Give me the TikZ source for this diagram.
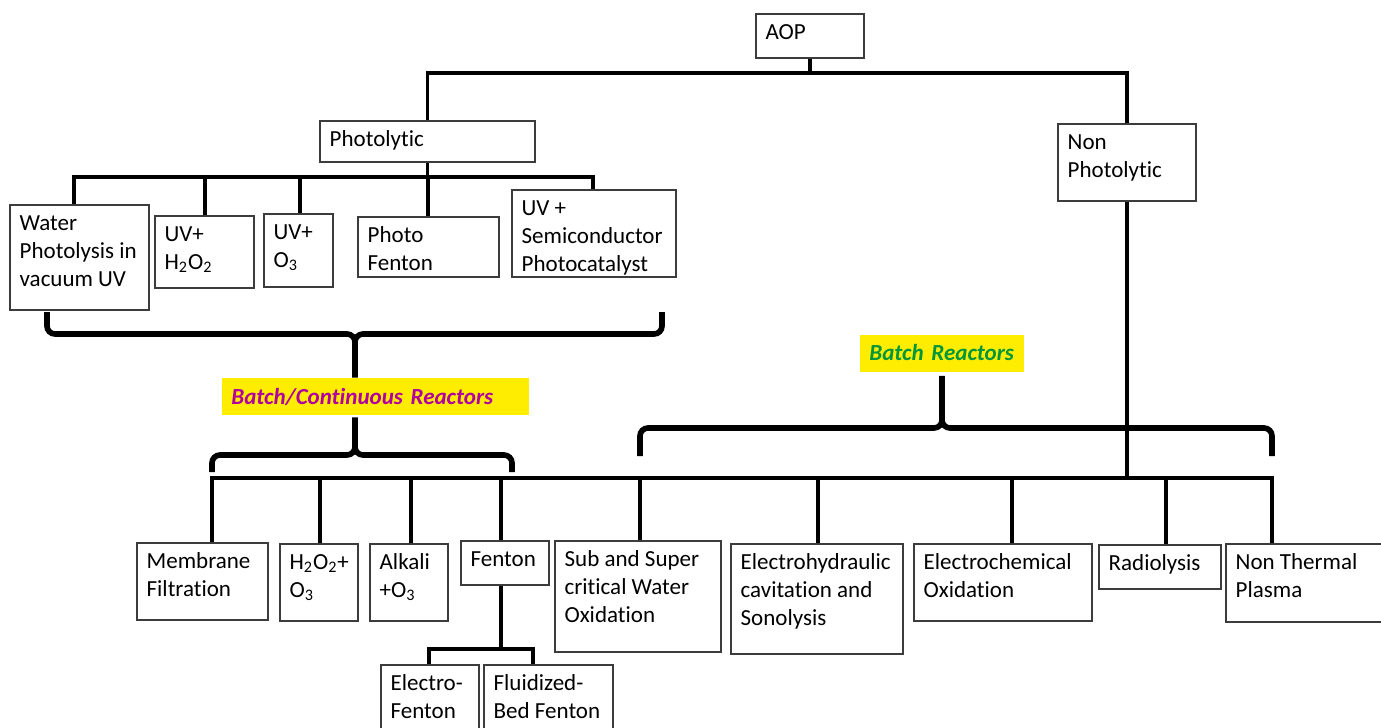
\documentclass[tikz,border=0pt]{standalone}
\usepackage{fontspec}
\setmainfont{Carlito}[Ligatures=NoCommon]
\definecolor{boxgray}{RGB}{60,60,60}
\definecolor{hlyellow}{RGB}{255,237,0}
\definecolor{magcol}{RGB}{176,0,160}
\definecolor{grncol}{RGB}{0,150,60}
\newcommand\mybx[6]{%
  \node[box, minimum width={(#4-#2)*0.02cm}, minimum height={(#5-#3)*0.02cm}] (#1) at ({(#2+#4)/2},{(#3+#5)/2}) {};
  \node[txt] (#1-t) at ([xshift=0.2cm, yshift=-0.52cm]#1.north west) {\begin{tabular}[t]{@{}l@{}}#6\end{tabular}};
}
\begin{document}
\begin{tikzpicture}[x=0.02cm,y=-0.02cm,
  box/.style={draw=boxgray,line width=0.8pt,inner sep=0pt,fill=white},
  txt/.style={anchor=base west,inner sep=0pt,font=\fontsize{13.1}{15.9}\selectfont},
  conn/.style={line width=1.9pt,black},
  brace/.style={line width=3.2pt,black},
  lbl/.style={fill=hlyellow,inner ysep=0pt,inner xsep=0.18cm,minimum height=37*0.02cm,anchor=west,align=left,font=\fontsize{13.1}{15.9}\selectfont\bfseries\itshape}]
\useasboundingbox (0,0) rectangle (1381,727);
\clip (0,0) rectangle (1381,727);

% boxes
\mybx{aop}{756}{14}{864}{58}{AOP}
\mybx{pho}{320}{121}{535}{162}{Photolytic}
\mybx{nph}{1058}{124}{1196}{201}{Non\\Photolytic}
\mybx{wat}{10}{205}{149}{310}{Water\\Photolysis in\\vacuum UV}
\mybx{uvh}{155}{216}{254}{288}{UV+\\H\textsubscript{2}O\textsubscript{2}}
\mybx{uvo}{264}{214}{333}{287}{UV+\\O\textsubscript{3}}
\mybx{pfe}{358}{217}{499}{277}{Photo\\Fenton}
\mybx{uvs}{512}{190}{676}{277}{UV +\\Semiconductor\\Photocatalyst}
\mybx{mem}{137}{543}{268}{620}{Membrane\\Filtration}
\mybx{hoo}{280}{544}{358}{621}{H\textsubscript{2}O\textsubscript{2}+\\O\textsubscript{3}}
\mybx{alk}{370}{544}{448}{621}{Alkali\\+O\textsubscript{3}}
\mybx{fen}{461}{541}{549}{585}{Fenton}
\mybx{scw}{555}{541}{721}{652}{Sub and Super\\critical Water\\Oxidation}
\mybx{ehc}{731}{544}{903}{654}{Electrohydraulic\\cavitation and\\Sonolysis}
\mybx{eco}{914}{544}{1092}{621}{Electrochemical\\Oxidation}
\mybx{rad}{1099}{545}{1221}{589}{Radiolysis}
\mybx{ntp}{1226}{544}{1400}{622}{Non Thermal\\Plasma}
\mybx{efe}{381}{665}{479}{740}{Electro-\\Fenton}
\mybx{fbf}{484}{665}{613}{740}{Fluidized-\\Bed Fenton}

% labels
\node[lbl, text=magcol, text width=289*0.02cm] (lblA) at (222,396.5) {Batch/Continuous Reactors};
\node[lbl, text=grncol, text width=146*0.02cm] (lblB) at (860,353) {Batch Reactors};

% top tree
\coordinate (top) at (aop.south |- 0,73);
\draw[conn] (aop.south) -- (top);
\draw[conn] (pho.north) |- (top);
\draw[conn] (nph.north) |- (top);

% photolytic children
\coordinate (pbar) at (pho.south |- 0,177);
\draw[conn] (pho.south) -- (pbar);
\draw[conn] (wat.north -| 74,0) |- (pbar);
\draw[conn] (uvh.north -| 205,0) |- (pbar);
\draw[conn] (uvo.north -| 300,0) |- (pbar);
\draw[conn] (pfe.north -| 428,0) |- (pbar);
\draw[conn] (uvs.north -| 593,0) |- (pbar);

% non photolytic / bottom bar
\coordinate (bbar) at (nph.south |- 0,478);
\draw[conn] (nph.south) -- (bbar);
\draw[conn] (mem.north -| 212,0) |- (bbar);
\draw[conn] (hoo.north -| 320,0) |- (bbar);
\draw[conn] (alk.north -| 411,0) |- (bbar);
\draw[conn] (fen.north -| 501,0) |- (bbar);
\draw[conn] (scw.north -| 640,0) |- (bbar);
\draw[conn] (ehc.north -| 818,0) |- (bbar);
\draw[conn] (eco.north -| 1012,0) |- (bbar);
\draw[conn] (rad.north -| 1166,0) |- (bbar);
\draw[conn] (ntp.north -| 1272,0) |- (bbar);

% fenton subtree
\coordinate (fbar) at (501,649);
\draw[conn] (fen.south -| 501,0) -- (fbar);
\draw[conn] (efe.north -| 429,0) |- (fbar);
\draw[conn] (fbf.north -| 533,0) |- (fbar);

% brace A (under photolytic children)
\coordinate (bAc) at (355,342);
\draw[brace] (47,312) -- (47,326) to[out=-90,in=180] (55,334) -- (347,334) to[out=0,in=90] (bAc) -- (lblA.north -| bAc);
\draw[brace] (662,312) -- (662,326) to[out=-90,in=0] (654,334) -- (363,334) to[out=180,in=90] (bAc);

% brace B (under Batch/Continuous label)
\coordinate (bBc) at (355,447);
\draw[brace] ([yshift=-0.04cm]lblA.south -| bBc) -- (bBc) to[out=-90,in=0] (347,455) -- (220,455) to[out=180,in=90] (212,463) -- (212,472);
\draw[brace] (bBc) to[out=-90,in=180] (363,455) -- (504,455) to[out=0,in=90] (512,463) -- (512,472);

% brace C (under Batch Reactors label)
\coordinate (bCc) at (942,420);
\draw[brace] ([yshift=-0.08cm]lblB.south -| bCc) -- (bCc) to[out=-90,in=0] (934,428) -- (648,428) to[out=180,in=90] (640,436) -- (640,456);
\draw[brace] (bCc) to[out=-90,in=180] (950,428) -- (1264,428) to[out=0,in=90] (1272,436) -- (1272,456);
\end{tikzpicture}
\end{document}
